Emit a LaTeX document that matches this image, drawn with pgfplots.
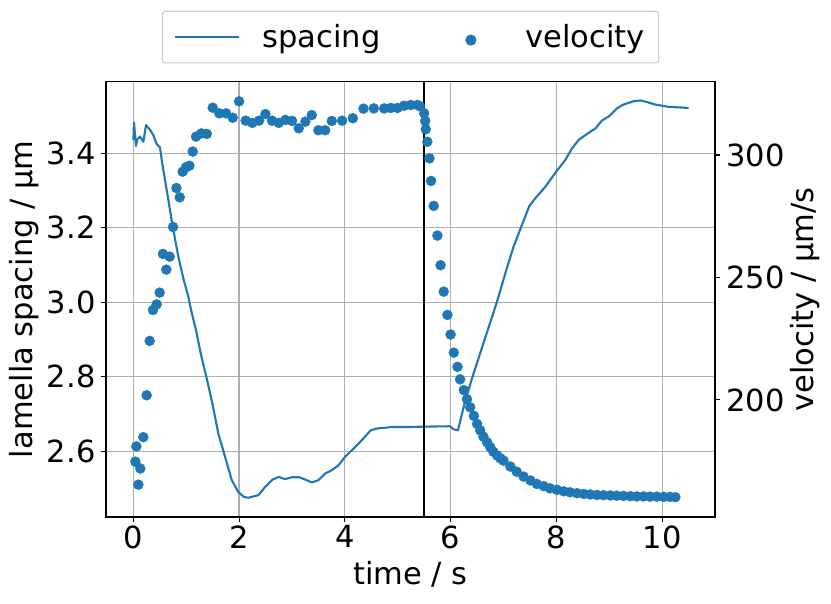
\documentclass[border=0pt]{standalone}
\usepackage{pgfplots}
\usepackage{fontspec}
\setmainfont{DejaVu Sans}
\pgfplotsset{compat=1.18}
\definecolor{tabblue}{HTML}{1F77B4}
\definecolor{gridgray}{HTML}{B0B0B0}

\pgfplotstableread{
t s
0.00 3.436
0.013 3.483
0.05 3.420
0.076 3.438
0.126 3.445
0.19 3.431
0.24 3.476
0.315 3.463
0.378 3.449
0.44 3.425
0.505 3.416
0.537 3.382
0.632 3.301
0.745 3.203
0.852 3.122
0.946 3.064
1.04 3.015
1.092 2.979
1.186 2.925
1.275 2.862
1.389 2.795
1.495 2.728
1.608 2.647
1.735 2.585
1.862 2.522
1.987 2.490
2.094 2.477
2.176 2.475
2.365 2.482
2.492 2.504
2.636 2.524
2.75 2.531
2.87 2.525
2.996 2.530
3.135 2.530
3.248 2.524
3.374 2.516
3.5 2.522
3.627 2.540
3.753 2.549
3.879 2.562
4.005 2.585
4.257 2.620
4.49 2.656
4.604 2.661
4.762 2.663
4.888 2.665
5.235 2.665
5.5 2.666
5.99 2.667
6.055 2.659
6.138 2.656
6.264 2.728
6.403 2.795
6.876 3.001
7.052 3.086
7.19 3.149
7.336 3.203
7.487 3.258
7.6 3.279
7.79 3.310
7.998 3.351
8.168 3.382
8.295 3.413
8.42 3.436
8.64 3.458
8.74 3.467
8.86 3.488
9.0 3.500
9.15 3.521
9.25 3.530
9.46 3.540
9.59 3.542
9.71 3.538
9.87 3.531
10.12 3.525
10.5 3.522
}\spacingdata

\pgfplotstableread{
t v
0.038 174.8
0.057 181
0.095 165.4
0.132 172
0.189 184.8
0.252 201.9
0.309 224.1
0.372 236.7
0.441 239
0.498 243.8
0.561 259.6
0.624 253.2
0.687 258.5
0.751 270.6
0.814 286.5
0.877 282.7
0.933 293.2
0.997 295
1.06 295.6
1.123 301.4
1.186 307.5
1.287 308.8
1.388 308.6
1.501 319.3
1.627 317
1.753 317
1.88 315.2
2.0 321.9
2.125 314
2.251 313.1
2.378 314
2.498 316.7
2.624 314
2.75 313.1
2.876 314.3
3.002 313.9
3.128 310.9
3.254 313.6
3.374 316.3
3.5 310.1
3.627 310.1
3.753 313.9
3.948 314
4.15 315
4.352 318.9
4.547 319
4.743 319
4.869 319.2
4.995 319.2
5.121 320.1
5.248 320.4
5.374 320.4
5.42 319.9
5.50 317
5.52 313.9
5.53 310.5
5.56 305.4
5.60 298.6
5.63 289.4
5.68 279.2
5.75 267.1
5.81 255
5.87 244.2
5.94 234.7
6.0 226.7
6.06 219.3
6.13 213.5
6.18 208.4
6.25 204
6.31 200.3
6.37 197
6.44 193.5
6.5 190.2
6.56 187.6
6.62 185
6.69 182.7
6.75 180.7
6.81 178.8
6.88 177.3
6.94 176.2
7.0 175.2
7.13 172.8
7.25 170.7
7.38 168.7
7.51 167.1
7.63 165.7
7.76 164.8
7.88 163.9
8.01 163.3
8.14 162.7
8.26 162.3
8.39 161.9
8.52 161.6
8.64 161.4
8.77 161.2
8.89 161.1
9.02 161
9.14 160.9
9.27 160.8
9.40 160.7
9.52 160.6
9.65 160.6
9.77 160.5
9.90 160.5
10.03 160.4
10.15 160.4
10.25 160.3
}\velocitydata

\pgfplotsset{
  base/.style={
    scale only axis,
    width=609pt,
    height=435.5pt,
    xmin=-0.517, xmax=11.0,
    tick align=outside,
    major tick length=5pt,
    tick style={black,line width=1.1pt},
    axis line style={line width=1.1pt},
    tick label style={font=\fontsize{30.5}{36}\selectfont},
    /pgf/number format/assume math mode=true,
  },
  lineimg/.style={legend image code/.code={\draw[##1] (0pt,0pt)--(64pt,0pt);}},
  dotimg/.style={legend image code/.code={\path (0pt,0pt) (64pt,0pt);\draw[mark repeat=2,mark phase=2,##1] plot coordinates {(0pt,-3pt)(32pt,-3pt)(64pt,-3pt)};}},
}

\begin{document}
\begin{tikzpicture}
\path[use as bounding box] (-106pt,-87pt) rectangle (725pt,517pt);

\begin{axis}[
  base,
  ymin=2.4233, ymax=3.593,
  xtick={0,2,4,6,8,10},
  ytick={2.6,2.8,3.0,3.2,3.4},
  yticklabel style={xshift=-2pt,/pgf/number format/fixed,/pgf/number format/fixed zerofill,/pgf/number format/precision=1},
  xtick pos=bottom, ytick pos=left,
  grid=major,
  grid style={gridgray,line width=1.2pt},
  xlabel={time / s},
  xlabel style={font=\fontsize{30.5}{36}\selectfont,at={(axis description cs:0.5,0)},anchor=base,yshift=-68pt},
  every axis y label/.style={at={(axis description cs:-0.1346,0.5)},rotate=90,anchor=center,font=\fontsize{30.5}{36}\selectfont},
  ylabel={lamella spacing / μm},
]
\addplot[tabblue,line width=2.1pt,line join=round] table[x=t,y=s] {\spacingdata};
\addplot[black,line width=2.1pt] coordinates {(5.5,2.4) (5.5,3.6)};
\end{axis}

\begin{axis}[
  base,
  ymin=152.2, ymax=330,
  xtick=\empty,
  ytick={200,250,300},
  ytick pos=right,
  yticklabel pos=right,
  yticklabel style={xshift=3pt},
  every axis y label/.style={at={(axis description cs:1.148,0.5)},rotate=90,anchor=center,font=\fontsize{30.5}{36}\selectfont},
  ylabel={velocity / μm/s},
  legend columns=2,
  legend style={
    at={(0.5,1)},anchor=south,yshift=18pt,
    draw=black!20,line width=1.1pt,rounded corners=3pt,
    font=\fontsize{30.5}{36}\selectfont,
    inner xsep=12pt,inner ysep=11.5pt,
    /tikz/every even column/.append style={column sep=56pt},
    /tikz/every odd column/.append style={column sep=20pt},
    cells={anchor=west},
  },
]
\addlegendimage{tabblue,line width=2.1pt,lineimg}
\addplot[only marks,mark=*,mark size=5pt,color=tabblue,mark options={draw=tabblue,fill=tabblue},dotimg]
  table[x=t,y=v] {\velocitydata};
\legend{spacing,velocity}
\end{axis}
\end{tikzpicture}
\end{document}
